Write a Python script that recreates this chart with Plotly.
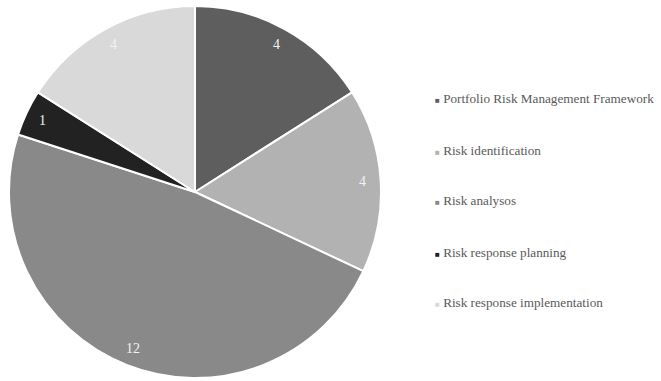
import math
import plotly.graph_objects as go

# Topic counts per portfolio risk management process
categories = [
    "Portfolio Risk Management Framework",
    "Risk identification",
    "Risk analysos",
    "Risk response planning",
    "Risk response implementation",
]
counts = [4, 4, 12, 1, 4]
colors = ["#5e5e5e", "#b2b2b2", "#898989", "#222222", "#d9d9d9"]

W, H = 661, 381

# Pie placement in pixels
x0, x1 = 8, 382
ytop, ybot = 6, 378
cx, cy = (x0 + x1) / 2, (ytop + ybot) / 2
R = (x1 - x0) / 2

fig = go.Figure(
    go.Pie(
        labels=categories,
        values=counts,
        sort=False,
        direction="clockwise",
        rotation=0,
        marker=dict(colors=colors, line=dict(color="white", width=2)),
        textinfo="none",
        domain=dict(x=[x0 / W, x1 / W], y=[1 - ybot / H, 1 - ytop / H]),
        showlegend=False,
        hoverinfo="label+value",
    )
)

# Value labels near the rim of each slice, at its mid-angle
total = sum(counts)
cum = 0
for v in counts:
    mid = (cum + v / 2) / total * 2 * math.pi
    cum += v
    r = 0.9 * R
    px = cx + r * math.sin(mid)
    py = cy - r * math.cos(mid)
    fig.add_annotation(
        x=px / W, y=1 - py / H, xref="paper", yref="paper",
        xanchor="center", yanchor="middle", showarrow=False,
        text=str(v),
        font=dict(family="Liberation Serif", size=14, color="#f2f2f2"),
    )

# Legend drawn as annotations: small coloured square + grey label
legend_y = [98, 150, 200, 252, 302]
for name, col, y in zip(categories, colors, legend_y):
    fig.add_annotation(
        x=433 / W, y=1 - y / H, xref="paper", yref="paper",
        xanchor="left", yanchor="middle", showarrow=False,
        text=f"<span style='color:{col};font-size:8px'>■</span> {name}",
        font=dict(family="Liberation Serif", size=13.2, color="#595959"),
    )

fig.update_layout(
    width=W, height=H,
    margin=dict(l=0, r=0, t=0, b=0),
    paper_bgcolor="white",
    plot_bgcolor="white",
)

fig.write_html("out.html")
